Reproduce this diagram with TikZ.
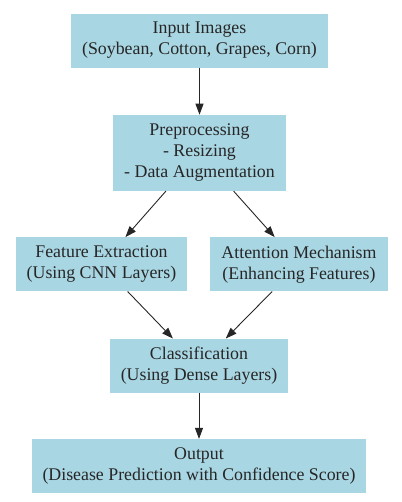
\documentclass[tikz,border=0pt]{standalone}
\usepackage{fontspec}
\setmainfont{Liberation Serif}
\usepackage{tikz}
\usetikzlibrary{arrows.meta,positioning}
\definecolor{boxblue}{HTML}{A9D6E3}
\tikzstyle{block} = [rectangle, fill=boxblue, draw=none, align=center, inner xsep=11bp, inner ysep=0pt, minimum height=54bp, font=\fontsize{17.9}{21}\selectfont, text=black!85]
\tikzstyle{arrow} = [->, >={Triangle[length=11bp,width=8bp]}, line width=0.9bp, draw=black!85]

\begin{document}
\begin{tikzpicture}[node distance=47bp,auto]
    \useasboundingbox (0,0) rectangle (402bp,-502bp);
    \node (input) [block] at (199.5bp,-40.5bp) {Input Images\\(Soybean, Cotton, Grapes, Corn)};
    \node (prep) [block, minimum height=76bp] [below=of input] {Preprocessing\\- Resizing\\- Data Augmentation};
    \node (feat) [block] [below=46bp of prep, xshift=-98bp] {Feature Extraction\\(Using CNN Layers)};
    \node (att) [block] [below=46bp of prep, xshift=99.5bp] {Attention Mechanism\\(Enhancing Features)};
    \node (class) [block] [below=of feat, xshift=97.5bp] {Classification\\(Using Dense Layers)};
    \node (out) [block] [below=46bp of class] {Output\\(Disease Prediction with Confidence Score)};

    \draw[arrow] (input) -- (prep);
    \draw[arrow] (prep) -- (feat);
    \draw[arrow] (prep) -- (att);
    \draw[arrow] (feat) -- (class);
    \draw[arrow] (att) -- (class);
    \draw[arrow] (class) -- (out);
    %\draw[arrow] (prep) -- (class);
\end{tikzpicture}
\end{document}
